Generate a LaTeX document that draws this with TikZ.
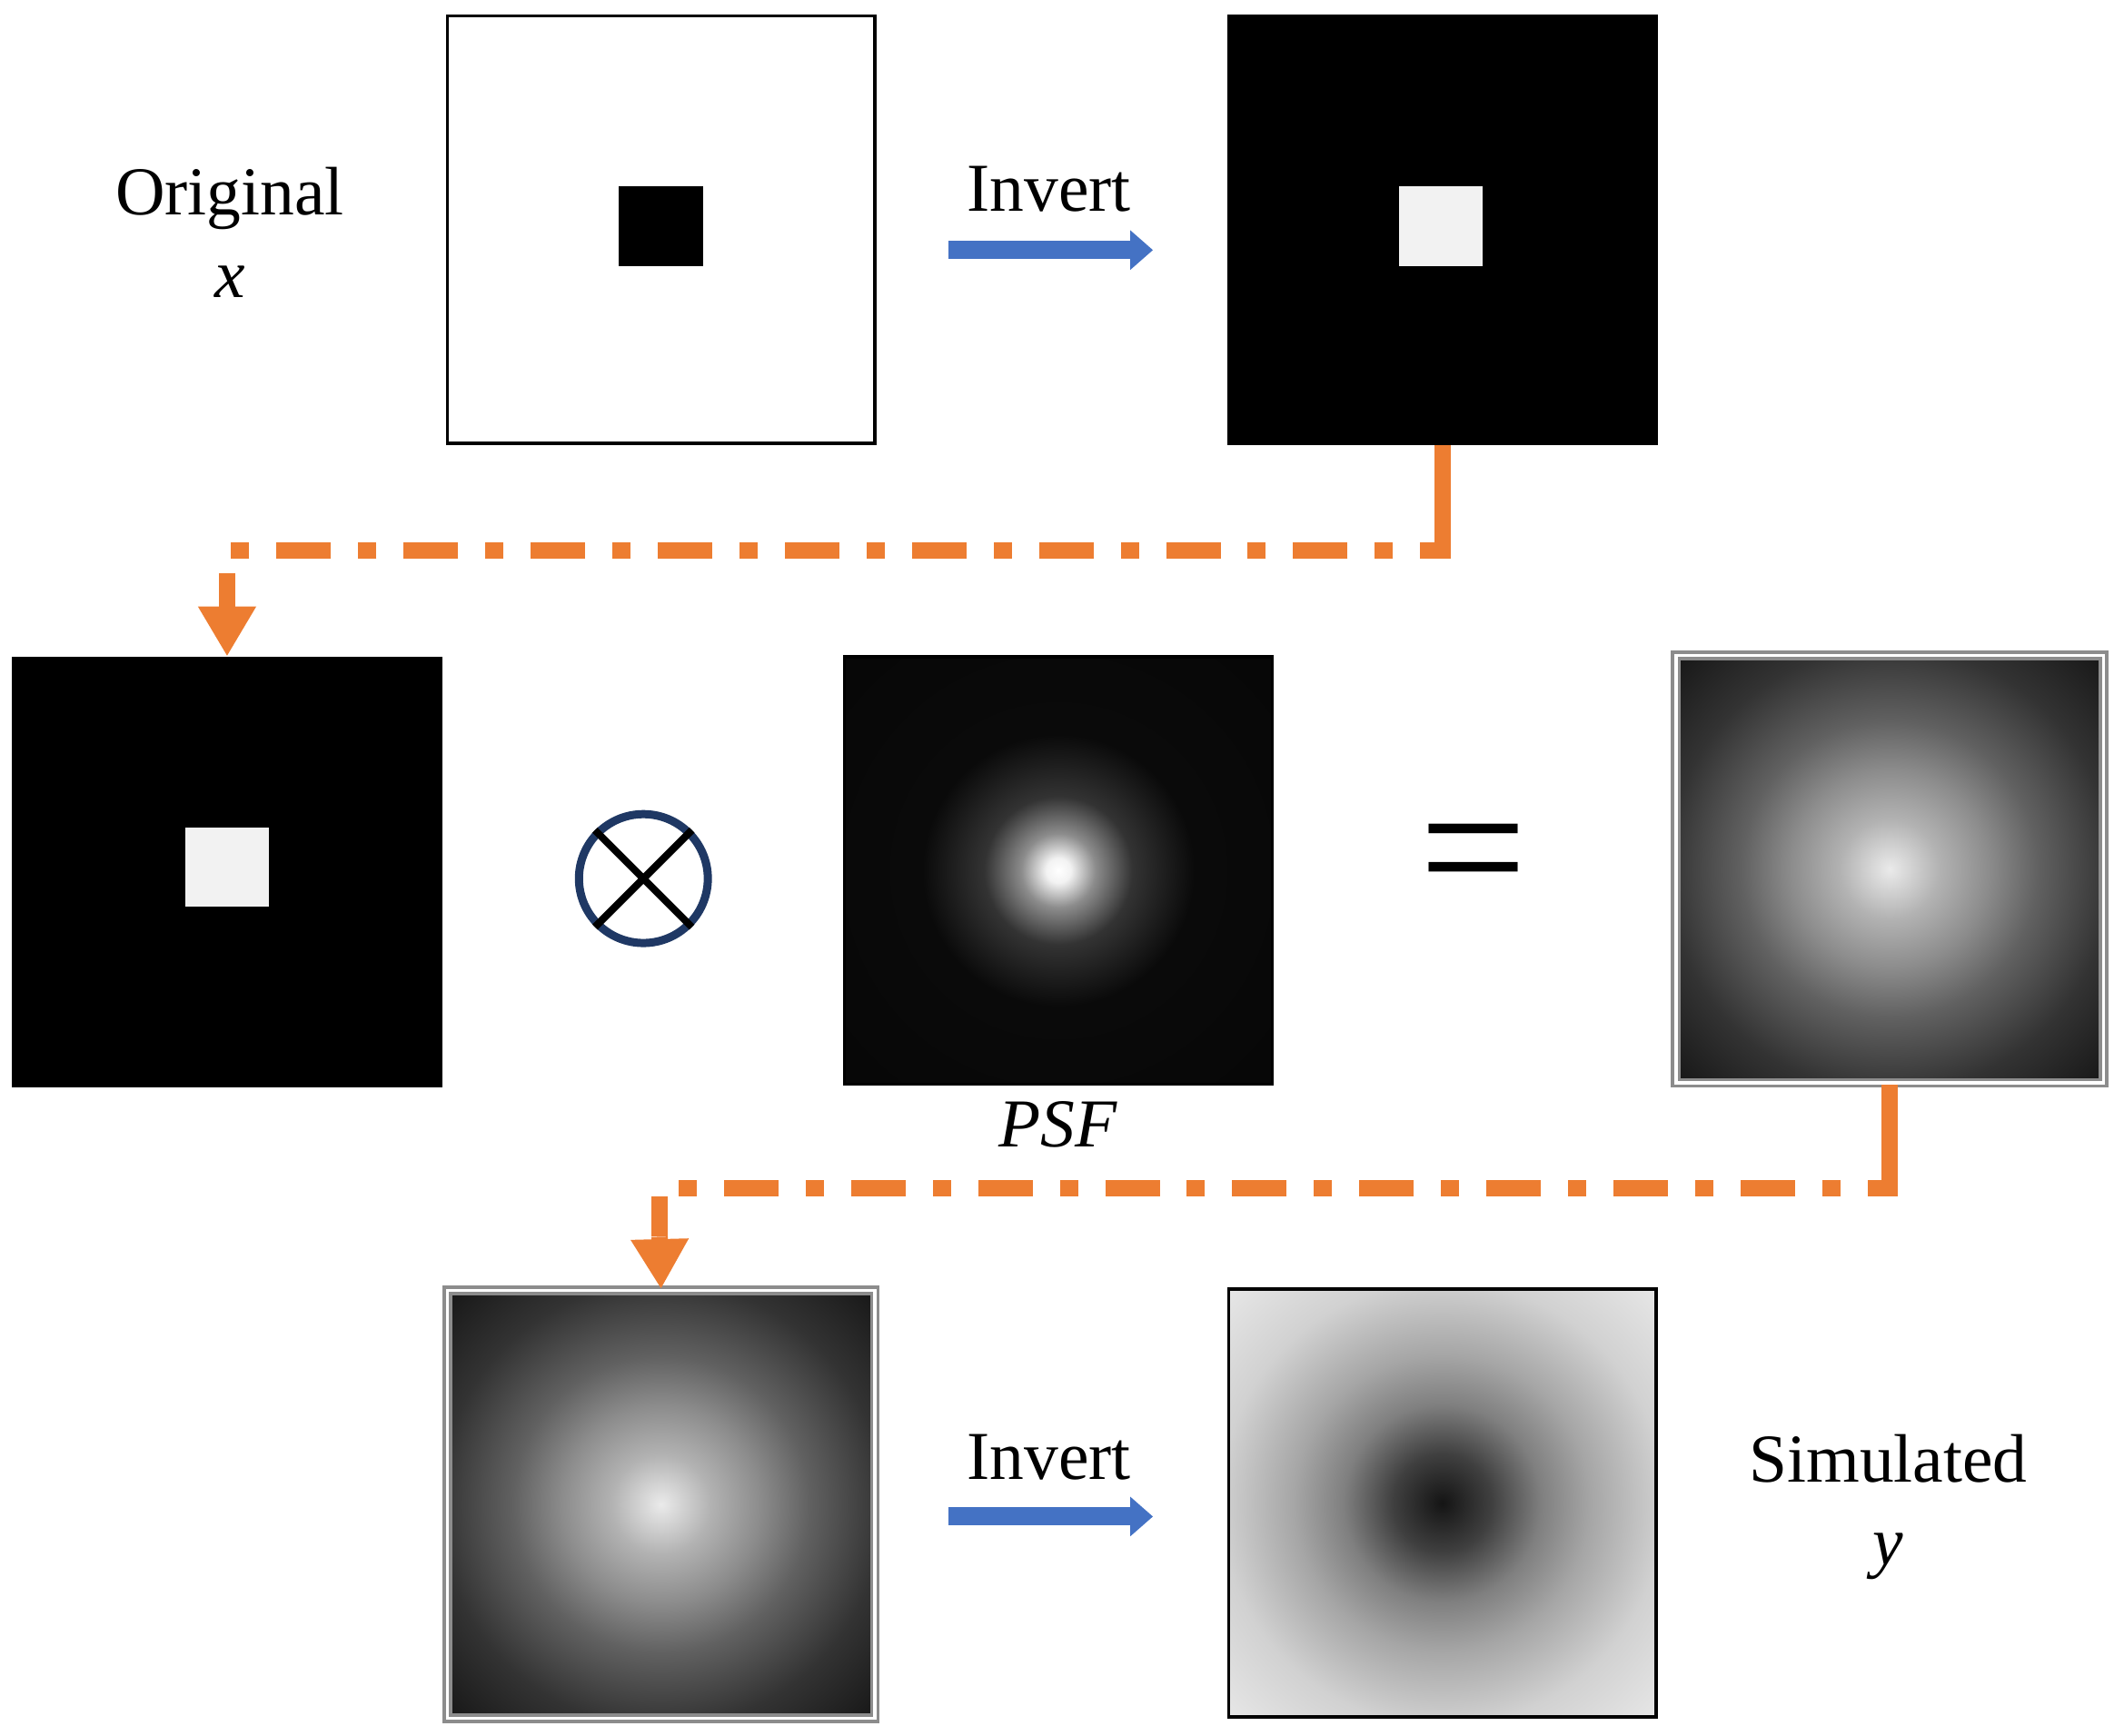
\documentclass[tikz,border=0pt]{standalone}
\usepackage{fontspec}
\setmainfont{Liberation Serif}
\usetikzlibrary{positioning, arrows.meta}
\definecolor{flow}{RGB}{237,125,49}
\definecolor{invblue}{RGB}{68,114,196}
\definecolor{navy}{RGB}{31,56,100}
\pgfdeclareradialshading{psfspot}{\pgfpoint{0bp}{0bp}}{color(0bp)=(white); color(1bp)=(white!95!black); color(3bp)=(black!45); color(6bp)=(black!80); color(11bp)=(black!96); color(50bp)=(black)}
\pgfdeclareradialshading{blurspot}{\pgfpoint{0bp}{0bp}}{color(0bp)=(white!92!black); color(4bp)=(white!70!black); color(8bp)=(black!45); color(12bp)=(black!62); color(18bp)=(black!80); color(25bp)=(black!92); color(50bp)=(black)}
\pgfdeclareradialshading{darkspot}{\pgfpoint{0bp}{0bp}}{color(0bp)=(black!92); color(4bp)=(black!75); color(8bp)=(black!50); color(12bp)=(black!35); color(18bp)=(black!18); color(25bp)=(black!9); color(50bp)=(black!5)}
\begin{document}
\begin{tikzpicture}[
    x=0.0149cm, y=-0.0149cm,
    img/.style={
        rectangle,
        draw=black,
        line width=1pt,
        inner sep=0pt,
        minimum size=4.71cm
    },
    dark/.style={img, fill=black},
    blurred/.style={img, fill=black, draw=black!45, double=white, double distance=1pt,
        path picture={\shade[shading=#1] (path picture bounding box.center) circle (3.4cm);}},
    label/.style={
        font=\fontsize{21.5}{26}\selectfont,
        align=center
    },
    invert/.style={
        -{Triangle[length=0.25cm, width=0.42cm]},
        line width=0.2cm,
        draw=invblue
    },
    flowline/.style={
        draw=flow,
        line width=0.18cm,
        dash pattern=on 0.6cm off 0.3cm on 0.2cm off 0.3cm
    },
    flowtip/.style={
        -{Triangle[length=0.55cm, width=0.6cm]},
        draw=flow,
        line width=0.18cm
    }
]
\useasboundingbox (0,0) rectangle (1564,1284);

%% Top row
\node[label] (orig) at (170,172) {Original\\\textit{x}};
\node[img, fill=white] (src) at (489,170) {};
\fill (458,138) rectangle (520,197);
\node[dark] (inv) at (1067,170) {};
\fill[white!95!black] (1035,138) rectangle (1097,197);
\node[label] (inv_top) at (776,140) {Invert};
\coordinate (inv_top_a) at (702,185);
\coordinate (inv_top_b) at (853,185);
\draw[invert] (inv_top_a) -- (inv_top_b);

%% Middle row
\node[dark] (obj) at (168,645) {};
\fill[white!95!black] (137,612) rectangle (199,671);
\node[circle, draw=navy, line width=0.09cm, minimum size=1.42cm] (conv) at (476,650) {};
\draw[line width=0.08cm] (conv.north west) -- (conv.south east)
    (conv.north east) -- (conv.south west);
\node[img, fill=black, path picture={\shade[shading=psfspot] (path picture bounding box.center) circle (3.4cm);}] (psf) at (783,644) {};
\node[label, below=0.05cm of psf] (psf_label) {\textit{PSF}};
\node[label, font=\fontsize{60}{60}\selectfont] (equals) at (1090,642) {=};
\node[blurred=blurspot] (conv_out) at (1398,643) {};

%% Bottom row
\node[blurred=blurspot] (blur) at (489,1113) {};
\node[img, fill=black!7, path picture={\shade[shading=darkspot] (path picture bounding box.center) circle (3.4cm);}] (sim) at (1067,1112) {};
\node[label] (inv_bot) at (776,1078) {Invert};
\coordinate (inv_bot_a) at (702,1122);
\coordinate (inv_bot_b) at (853,1122);
\draw[invert] (inv_bot_a) -- (inv_bot_b);
\node[label] (simulated) at (1397,1115) {Simulated\\\textit{y}};

%% Flow connectors
\coordinate (turn1) at (1067,383);
\coordinate (drop1) at (168,445);
\draw[draw=flow, line width=0.18cm] (inv.south) -- (turn1);
\draw[flowline] (turn1) -- (1067,407) -- (168,407) -- (drop1);
\draw[flowtip] (drop1) -- (obj.north);
\coordinate (turn2) at (1398,855);
\coordinate (drop2) at (488,915);
\draw[draw=flow, line width=0.18cm] (conv_out.south) -- (turn2);
\draw[flowline] (turn2) -- (1398,879) -- (488,879) -- (drop2);
\draw[flowtip] (drop2) -- (blur.north);
\end{tikzpicture}
\end{document}
